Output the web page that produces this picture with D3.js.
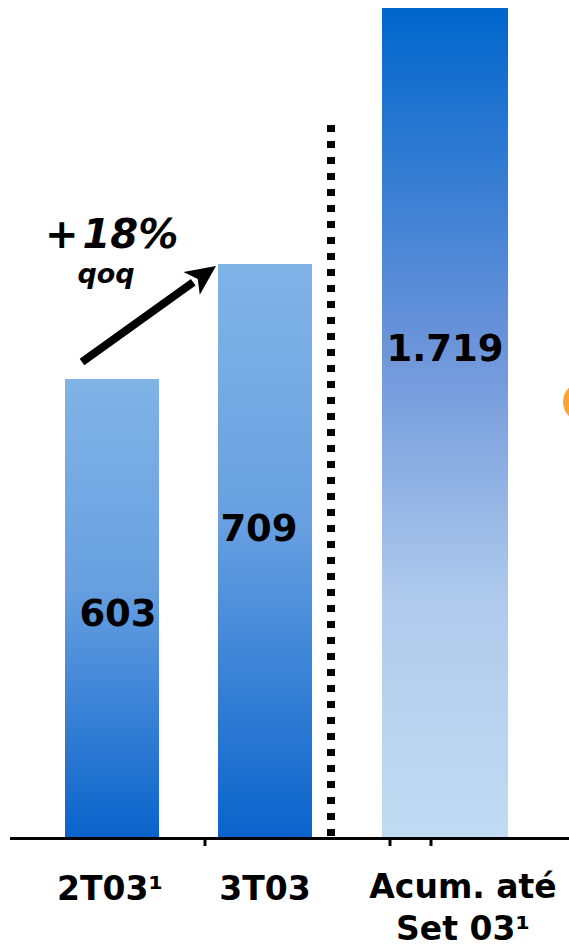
<!DOCTYPE html>
<html><head><meta charset="utf-8">
<script src="https://cdn.jsdelivr.net/npm/d3@7"></script>
<style>html,body{margin:0;padding:0;background:#fff;overflow:hidden}</style>
</head><body>
<script>
const categories = ["2T03¹", "3T03", "Acum. até|Set 03¹"];
const quarterValues = [603, 709];
const accumValue = [1719];
const valueLabels = ["603", "709", "1.719"];
const growthSign = "+";
const growthLabel = "18%";
const growthSub = "qoq";

const W = 569, H = 949;
const svg = d3.select("body").append("svg").attr("width", W).attr("height", H);
const defs = svg.append("defs");

const g1 = defs.append("linearGradient").attr("id","gq").attr("x1",0).attr("y1",0).attr("x2",0).attr("y2",1);
[[0,"#80b3e6"],[0.45,"#68a0e0"],[1,"#0a63cb"]].forEach(s=>g1.append("stop").attr("offset",s[0]).attr("stop-color",s[1]));
const g2 = defs.append("linearGradient").attr("id","ga").attr("x1",0).attr("y1",0).attr("x2",0).attr("y2",1);
[[0,"#0066cc"],[0.4,"#6a93d9"],[0.72,"#b0cbec"],[1,"#c1dbf3"]].forEach(s=>g2.append("stop").attr("offset",s[0]).attr("stop-color",s[1]));

const baseY = 837;
// left panel (quarters) - truncated axis
const yQ = d3.scaleLinear().domain([181, 709]).range([baseY, 264]);
// right panel (accumulated)
const yA = d3.scaleLinear().domain([0, 1719]).range([baseY, 8]);

const bw = 94;
const xPos = [65, 218];

// quarter bars
svg.selectAll("rect.q").data(quarterValues).join("rect")
  .attr("x",(d,i)=>xPos[i]).attr("width",bw)
  .attr("y",d=>yQ(d)).attr("height",d=>baseY-yQ(d))
  .attr("fill","url(#gq)");

// accumulated bar
svg.selectAll("rect.a").data(accumValue).join("rect")
  .attr("x",382).attr("width",126)
  .attr("y",d=>yA(d)).attr("height",d=>baseY-yA(d))
  .attr("fill","url(#ga)");

// value labels
const lblFont = "'DejaVu Sans', Verdana, sans-serif";
const labelFrac = [0.51, 0.46];
const labelDx = [6, -6];
svg.selectAll("text.v").data(quarterValues).join("text")
  .attr("x",(d,i)=>xPos[i]+bw/2+labelDx[i])
  .attr("y",(d,i)=> yQ(d) + (baseY - yQ(d))*labelFrac[i] + 13)
  .attr("text-anchor","middle").attr("font-family",lblFont).attr("font-weight","bold")
  .attr("font-size",37).attr("fill","#000").text((d,i)=>valueLabels[i]);
svg.selectAll("text.va").data(accumValue).join("text")
  .attr("x",445).attr("y",d=>yA(d)+ (baseY-yA(d))*0.41 + 13)
  .attr("text-anchor","middle").attr("font-family",lblFont).attr("font-weight","bold")
  .attr("font-size",37).attr("fill","#000").text(valueLabels[2]);

// dotted divider
svg.append("line").attr("x1",331).attr("x2",331).attr("y1",125).attr("y2",baseY)
  .attr("stroke","#000").attr("stroke-width",8).attr("stroke-dasharray","7,9");

// axis
svg.append("line").attr("x1",10).attr("x2",W).attr("y1",baseY+1.5).attr("y2",baseY+1.5)
  .attr("stroke","#000").attr("stroke-width",3);
[205,390,431].forEach(x=>svg.append("line").attr("x1",x).attr("x2",x).attr("y1",baseY+2).attr("y2",baseY+9)
  .attr("stroke","#000").attr("stroke-width",3));

// category labels
const catX = [110, 265, 463];
categories.forEach((c,i)=>{
  const lines = c.split("|");
  const t = svg.append("text").attr("x",catX[i]).attr("y", lines.length>1 ? 898 : 900)
    .attr("text-anchor","middle").attr("font-family",lblFont).attr("font-weight","bold")
    .attr("font-size",33).attr("fill","#000");
  lines.forEach((l,j)=>t.append("tspan").attr("x",catX[i]).attr("dy", j===0?0:42).text(l));
});

// growth annotation
const gt = svg.append("text").attr("x",45).attr("y",248)
  .attr("font-family",lblFont).attr("font-weight","bold").attr("font-style","italic")
  .attr("font-size",40).attr("fill","#000");
gt.append("tspan").text(growthSign);
gt.append("tspan").attr("dx",4).text(growthLabel);
svg.append("text").attr("x",106).attr("y",283).attr("text-anchor","middle")
  .attr("font-family",lblFont).attr("font-weight","bold").attr("font-style","italic")
  .attr("font-size",27).attr("fill","#000").text(growthSub);

// arrow
const ax1=82, ay1=362, ax2=216, ay2=266;
const ang = Math.atan2(ay2-ay1, ax2-ax1);
const headL = 30, headW = 14;
const bx = ax2 - headL*Math.cos(ang), by = ay2 - headL*Math.sin(ang);
svg.append("line").attr("x1",ax1).attr("y1",ay1).attr("x2",bx+2*Math.cos(ang)).attr("y2",by+2*Math.sin(ang))
  .attr("stroke","#000").attr("stroke-width",8);
const px = -Math.sin(ang), py = Math.cos(ang);
svg.append("path").attr("d",`M${ax2},${ay2}L${bx+px*headW},${by+py*headW}L${bx+headL*0.25*Math.cos(ang)},${by+headL*0.25*Math.sin(ang)}L${bx-px*headW},${by-py*headW}Z`)
  .attr("fill","#000");

// orange partial circle at right edge
svg.append("circle").attr("cx",583).attr("cy",402).attr("r",20).attr("fill","#f9a533");
</script>
</body></html>
